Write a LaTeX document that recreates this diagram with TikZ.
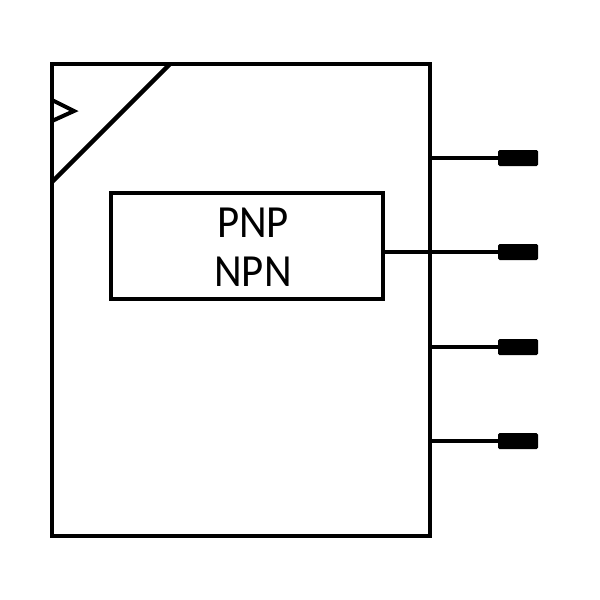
\documentclass[tikz,border=0pt]{standalone}
\usepackage{fontspec}
\setmainfont[FakeStretch=0.93]{Carlito}
\tikzset{
boxline/.style={draw=black, line width=4.5pt, outer sep=0pt, inner sep=0pt},
pinblock/.style={fill=black, rounded corners=1.5pt, minimum width=40pt, minimum height=16pt, inner sep=0pt, outer sep=0pt},
}
\begin{document}
\begin{tikzpicture}[x=1pt, y=-1pt, line width=4pt]
\useasboundingbox (0,0) rectangle (600,600);
\node[boxline, minimum width=378pt, minimum height=472pt] (body) at (241,300) {};
\node[boxline, minimum width=272pt, minimum height=106pt] (signal) at (247,246) {};
\node[align=center, inner sep=0pt, font=\fontsize{46}{49}\selectfont] (sigtext) at (253,247.5) {PNP\\NPN};
\coordinate (cutA) at (170,64);
\coordinate (cutB) at (52,182);
\draw[line width=4.5pt] (cutA) -- (cutB);
\draw (52,100) coordinate (triA) -- (74,111) coordinate (triB) -- (52,121) coordinate (triC);
\foreach \pin/\ypos in {1/158,2/252,3/347,4/441}{
\node[pinblock] (pin\pin) at (518,\ypos) {};
\ifnum\pin=2\draw (signal.east |- pin\pin) -- (pin\pin);
\else\draw (body.east |- pin\pin) -- (pin\pin);\fi
}
\end{tikzpicture}
\end{document}
